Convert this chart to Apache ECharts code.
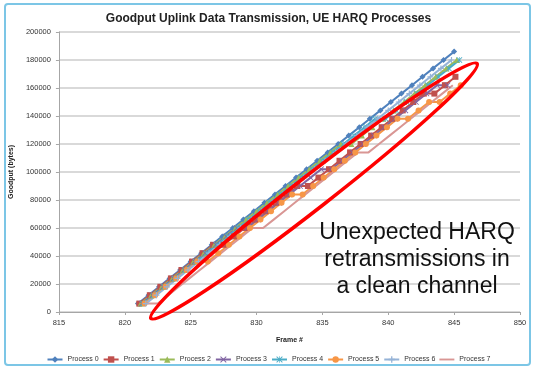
<!DOCTYPE html>
<html>
<head>
<meta charset="utf-8">
<script src="https://cdn.jsdelivr.net/npm/echarts@6/dist/echarts.min.js"></script>
<style>
  html, body { margin: 0; padding: 0; background: #ffffff; }
  #chart { width: 537px; height: 372px; }
</style>
</head>
<body>
<div id="chart"></div>
<script>
// ---- Data (frame #, cumulative goodput in bytes) ----
const seriesNames = ['Process 0','Process 1','Process 2','Process 3','Process 4','Process 5','Process 6','Process 7'];

const framesP0 = [821.0,821.8,822.6,823.4,824.2,825.0,825.8,826.6,827.4,828.2,829.0,829.8,830.6,831.4,832.2,833.0,833.8,834.6,835.4,836.2,837.0,837.8,838.6,839.4,840.2,841.0,841.8,842.6,843.4,844.2,845.0];
const goodputP0 = [6000,12000,18000,24000,30000,36000,42000,48000,54000,60000,66000,72000,78000,84000,90000,96000,102000,108000,114000,120000,126000,132000,138000,144000,150000,156000,162000,168000,174000,180000,186000];

const framesP1 = [821.1,821.9,822.7,823.5,824.3,825.1,825.9,826.7,827.5,828.3,829.1,829.9,830.7,831.5,832.3,833.1,833.9,834.7,835.5,836.3,837.1,837.9,838.7,839.5,840.3,841.1,841.9,842.7,843.5,844.3,845.1];
const goodputP1 = [6000,12000,18000,24000,30000,36000,42000,48000,48000,54000,60000,66000,72000,78000,84000,90000,90000,96000,102000,108000,114000,120000,126000,132000,138000,144000,150000,156000,156000,162000,168000];

const framesP2 = [821.2,822.0,822.8,823.6,824.4,825.2,826.0,826.8,827.6,828.4,829.2,830.0,830.8,831.6,832.4,833.2,834.0,834.8,835.6,836.4,837.2,838.0,838.8,839.6,840.4,841.2,842.0,842.8,843.6,844.4,845.2];
const goodputP2 = [6000,12000,18000,24000,30000,36000,42000,48000,54000,60000,66000,72000,78000,84000,90000,96000,102000,108000,114000,120000,120000,126000,132000,138000,144000,150000,156000,162000,168000,174000,180000];

const framesP3 = [821.3,822.1,822.9,823.7,824.5,825.3,826.1,826.9,827.7,828.5,829.3,830.1,830.9,831.7,832.5,833.3,834.1,834.9,835.7,836.5,837.3,838.1,838.9,839.7,840.5,841.3,842.1,842.9,843.7,844.5];
const goodputP3 = [6000,12000,18000,24000,30000,36000,42000,48000,54000,60000,60000,66000,72000,78000,84000,90000,96000,102000,102000,108000,114000,120000,126000,132000,138000,144000,150000,156000,162000,162000];

const framesP4 = [821.4,822.2,823.0,823.8,824.6,825.4,826.2,827.0,827.8,828.6,829.4,830.2,831.0,831.8,832.6,833.4,834.2,835.0,835.8,836.6,837.4,838.2,839.0,839.8,840.6,841.4,842.2,843.0,843.8,844.6,845.4];
const goodputP4 = [6000,12000,18000,24000,30000,36000,42000,48000,54000,60000,66000,72000,78000,84000,90000,96000,102000,108000,114000,120000,126000,132000,138000,138000,144000,150000,156000,162000,168000,174000,180000];

const framesP5 = [821.5,822.3,823.1,823.9,824.7,825.5,826.3,827.1,827.9,828.7,829.5,830.3,831.1,831.9,832.7,833.5,834.3,835.1,835.9,836.7,837.5,838.3,839.1,839.9,840.7,841.5,842.3,843.1,843.9,844.7,845.5];
const goodputP5 = [6000,12000,18000,24000,30000,36000,36000,42000,48000,54000,60000,66000,72000,78000,84000,84000,90000,96000,102000,108000,114000,120000,126000,132000,138000,138000,144000,150000,150000,156000,162000];

const framesP6 = [821.6,822.4,823.2,824.0,824.8,825.6,826.4,827.2,828.0,828.8,829.6,830.4,831.2,832.0,832.8,833.6,834.4,835.2,836.0,836.8,837.6,838.4,839.2,840.0,840.8,841.6,842.4,843.2,844.0,844.8];
const goodputP6 = [6000,12000,18000,24000,30000,36000,42000,48000,54000,60000,66000,72000,78000,84000,90000,96000,102000,108000,114000,120000,126000,132000,138000,144000,150000,156000,162000,168000,174000,180000];

const framesP7 = [821.7,822.5,823.3,824.1,824.9,825.7,826.5,827.3,828.1,828.9,829.7,830.5,831.3,832.1,832.9,833.7,834.5,835.3,836.1,836.9,837.7,838.5,839.3,840.1,840.9,841.7,842.5,843.3,844.1,844.9];
const goodputP7 = [6000,6000,12000,18000,24000,30000,36000,42000,48000,54000,60000,60000,66000,72000,78000,84000,90000,96000,102000,108000,114000,114000,120000,126000,132000,138000,144000,150000,156000,162000];

const xTicks = [815, 820, 825, 830, 835, 840, 845, 850];
const yTicks = [0, 20000, 40000, 60000, 80000, 100000, 120000, 140000, 160000, 180000, 200000];

const titleText = 'Goodput Uplink Data Transmission, UE HARQ Processes';
const xAxisTitle = 'Frame #';
const yAxisTitle = 'Goodput (bytes)';
const annotationLines = ['Unexpected HARQ', 'retransmissions in', 'a clean channel'];

// ---- Styles ----
const colors = ['#4F81BD','#C0504D','#9BBB59','#8064A2','#4BACC6','#F79646','#95B3D7','#D99694'];
const xPath = 'path://M0,1L1,0L5,4L9,0L10,1L6,5L10,9L9,10L5,6L1,10L0,9L4,5Z';
const starPath = 'path://M0,1L1,0L4.5,3.5L4.5,0L5.5,0L5.5,3.5L9,0L10,1L6,5L10,9L9,10L5.5,6.5L5.5,10L4.5,10L4.5,6.5L1,10L0,9L4,5Z';
const plusPath = 'path://M4,0H6V4H10V6H6V10H4V6H0V4H4Z';
const linePath = 'path://M0,4H16V6H0Z';
const symbols = ['diamond','rect','triangle',xPath,starPath,'circle',plusPath,'none'];
const symbolSizes = [6,6,6,6,6,6,6,0];

const frames = [framesP0,framesP1,framesP2,framesP3,framesP4,framesP5,framesP6,framesP7];
const goodputs = [goodputP0,goodputP1,goodputP2,goodputP3,goodputP4,goodputP5,goodputP6,goodputP7];

const font = '"Liberation Sans", Arial, sans-serif';

const series = seriesNames.map((name, k) => ({
  name: name,
  type: 'line',
  data: frames[k].map((f, i) => [f, goodputs[k][i]]),
  symbol: symbols[k],
  symbolSize: symbolSizes[k],
  showSymbol: symbols[k] !== 'none',
  lineStyle: { width: 2, color: colors[k] },
  itemStyle: { color: colors[k] },
  animation: false
}));

const legendData = seriesNames.map((name, k) =>
  symbols[k] === 'none' ? { name: name, icon: linePath, itemStyle: { color: colors[k] } } : { name: name }
);

const chart = echarts.init(document.getElementById('chart'), null, { renderer: 'canvas' });
chart.setOption({
  animation: false,
  color: colors,
  title: {
    text: titleText,
    left: 'center',
    top: 8,
    textStyle: { fontFamily: font, fontSize: 12, fontWeight: 'bold', color: '#222' }
  },
  grid: { left: 57, right: 17, top: 32, bottom: 60, containLabel: false },
  xAxis: {
    type: 'value',
    min: xTicks[0],
    max: xTicks[xTicks.length - 1],
    interval: 5,
    name: xAxisTitle,
    nameLocation: 'middle',
    nameGap: 25,
    nameTextStyle: { fontFamily: font, fontSize: 7, fontWeight: 'bold', color: '#222' },
    axisLine: { lineStyle: { color: '#a6a6a6', width: 1 } },
    axisTick: { show: true, length: 3, lineStyle: { color: '#a6a6a6' } },
    axisLabel: { fontFamily: font, fontSize: 7.5, color: '#333', margin: 7 },
    splitLine: { show: false }
  },
  yAxis: {
    type: 'value',
    min: yTicks[0],
    max: yTicks[yTicks.length - 1],
    interval: 20000,
    name: yAxisTitle,
    nameLocation: 'middle',
    nameGap: 37,
    nameTextStyle: { fontFamily: font, fontSize: 7, fontWeight: 'bold', color: '#222' },
    axisLine: { show: true, lineStyle: { color: '#a6a6a6', width: 1 } },
    axisTick: { show: true, length: 3, lineStyle: { color: '#a6a6a6' } },
    axisLabel: { fontFamily: font, fontSize: 7.5, color: '#333', margin: 8, formatter: v => String(v) },
    splitLine: { show: true, lineStyle: { color: '#cccccc', width: 1.5 } }
  },
  legend: {
    data: legendData,
    left: 'center',
    top: 351,
    itemWidth: 15,
    itemHeight: 8,
    itemGap: 4,
    textStyle: { fontFamily: font, fontSize: 7, color: '#333' }
  },
  series: series,
  graphic: [
    {
      type: 'rect',
      shape: { x: 5, y: 4, width: 525, height: 361, r: 3 },
      style: { fill: 'none', stroke: '#7cc6e6', lineWidth: 2 },
      silent: true,
      z: 100
    },
    {
      type: 'ellipse',
      x: 314,
      y: 191,
      rotation: 38 * Math.PI / 180,
      shape: { cx: 0, cy: 0, rx: 207, ry: 16.5 },
      style: { fill: 'none', stroke: '#ff0000', lineWidth: 3.5 },
      silent: true,
      z: 100
    },
    {
      type: 'text',
      x: 417,
      y: 260,
      style: {
        text: annotationLines.join('\n'),
        font: '23px "Liberation Sans", Arial, sans-serif',
        fill: '#111',
        align: 'center',
        verticalAlign: 'middle',
        lineHeight: 27
      },
      silent: true,
      z: 100
    }
  ]
});
</script>
</body>
</html>
